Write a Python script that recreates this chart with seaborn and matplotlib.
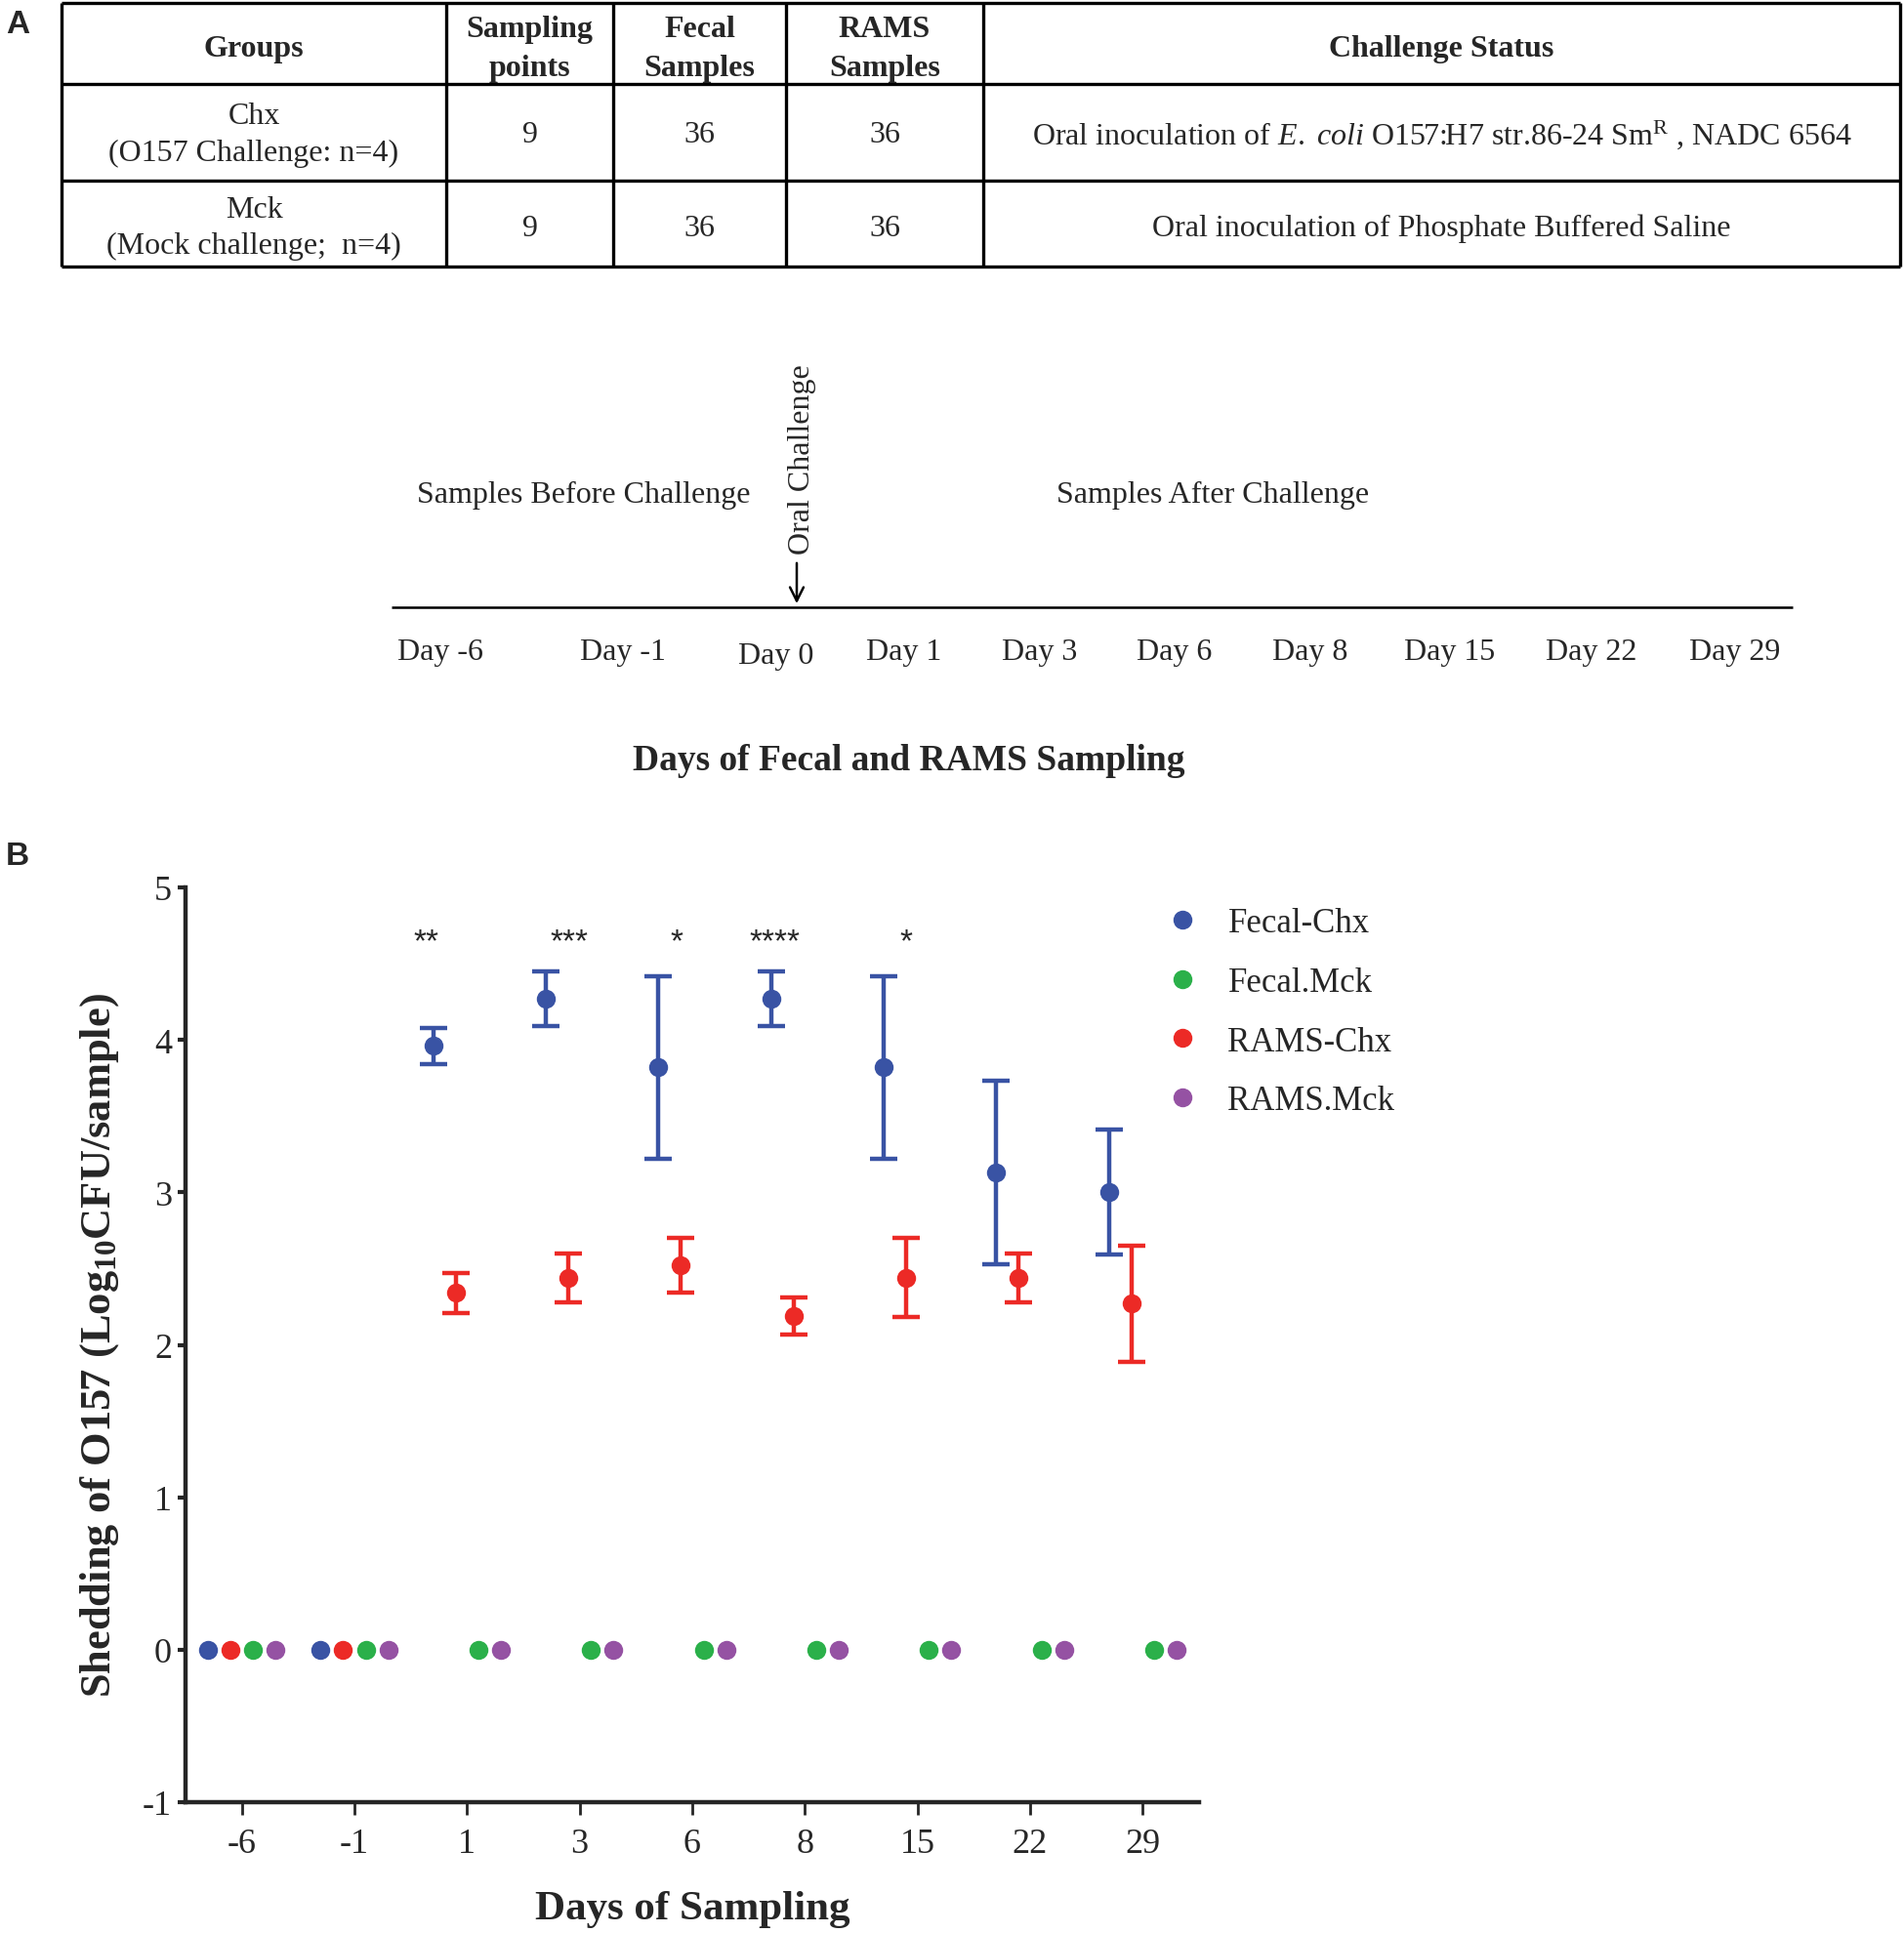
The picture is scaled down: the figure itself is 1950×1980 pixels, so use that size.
import numpy as np
import pandas as pd
import matplotlib
matplotlib.use("Agg")
import matplotlib.pyplot as plt
import seaborn as sns

# ---------------- data ----------------
table_header = ["Groups", "Sampling\npoints", "Fecal\nSamples", "RAMS\nSamples", "Challenge Status"]
table_groups = ["Chx\n(O157 Challenge: n=4)", "Mck\n(Mock challenge;  n=4)"]
table_sampling_points = ["9", "9"]
table_fecal_samples = ["36", "36"]
table_rams_samples = ["36", "36"]
table_status = [r"Oral inoculation of $\mathit{E.\ coli}$ O157:H7 str.86-24 Sm$^{\mathrm{R}}$ , NADC 6564",
                "Oral inoculation of Phosphate Buffered Saline"]

timeline_days = ["Day -6", "Day -1", "Day 0", "Day 1", "Day 3", "Day 6", "Day 8", "Day 15", "Day 22", "Day 29"]

days = ["-6", "-1", "1", "3", "6", "8", "15", "22", "29"]
fecal_chx = [0, 0, 3.96, 4.27, 3.82, 4.27, 3.82, 3.13, 3.00]
fecal_chx_err = [0, 0, 0.12, 0.18, 0.60, 0.18, 0.60, 0.60, 0.41]
rams_chx = [0, 0, 2.34, 2.44, 2.52, 2.19, 2.44, 2.44, 2.27]
rams_chx_err = [0, 0, 0.13, 0.16, 0.18, 0.12, 0.26, 0.16, 0.38]
fecal_mck = [0, 0, 0, 0, 0, 0, 0, 0, 0]
rams_mck = [0, 0, 0, 0, 0, 0, 0, 0, 0]

legend_order = ["Fecal-Chx", "Fecal.Mck", "RAMS-Chx", "RAMS.Mck"]
plot_order = ["Fecal-Chx", "RAMS-Chx", "Fecal.Mck", "RAMS.Mck"]
colors = {"Fecal-Chx": "#3953A4", "Fecal.Mck": "#2BB04A", "RAMS-Chx": "#EC2A26", "RAMS.Mck": "#9552A3"}

star_days = ["1", "3", "6", "8", "15"]
star_labels = ["**", "***", "*", "****", "*"]
star_value = 4.64

# ---------------- style ----------------
sns.set_style("ticks")
plt.rcParams["font.family"] = ["Liberation Serif", "DejaVu Serif"]
plt.rcParams["mathtext.fontset"] = "custom"
plt.rcParams["mathtext.rm"] = "Liberation Serif"
plt.rcParams["mathtext.it"] = "Liberation Serif:italic"
plt.rcParams["mathtext.bf"] = "Liberation Serif:bold"

W, H = 1950, 1981
fig = plt.figure(figsize=(W / 100, H / 100), dpi=100)

# ---------------- panel A (overlay in pixel coords) ----------------
ax0 = fig.add_axes([0, 0, 1, 1])
ax0.set_xlim(0, W)
ax0.set_ylim(H, 0)
ax0.axis("off")

col_b = [63, 457, 628, 805, 1007, 1946]
row_b = [4, 87, 186, 274]
ax0.hlines(row_b, col_b[0], col_b[-1], color="black", lw=2.4)
ax0.vlines(col_b, row_b[0], row_b[-1], color="black", lw=2.4)
ccx = [(col_b[i] + col_b[i + 1]) / 2 for i in range(5)]
rcy = [(row_b[i] + row_b[i + 1]) / 2 for i in range(3)]
tfs = 23
for i, h in enumerate(table_header):
    ax0.text(ccx[i], rcy[0] + 5, h, ha="center", va="center", fontsize=tfs, fontweight="bold",
             multialignment="center", linespacing=1.5)
rows = list(zip(table_groups, table_sampling_points, table_fecal_samples, table_rams_samples, table_status))
row_dy = [2, 4]
for r, row in enumerate(rows):
    for c, val in enumerate(row):
        ax0.text(ccx[c], rcy[r + 1] + row_dy[r], val, ha="center", va="center", fontsize=tfs,
                 multialignment="center", linespacing=1.4)

# timeline
ax0.hlines(623, 401, 1836, color="black", lw=1.8)
ax0.annotate("", xy=(816, 622), xytext=(816, 575),
             arrowprops=dict(arrowstyle="->", lw=1.8, color="black", mutation_scale=25))
ax0.text(822, 471, "Oral Challenge", rotation=90, ha="center", va="center", fontsize=tfs)
ax0.text(598, 507, "Samples Before Challenge", ha="center", va="center", fontsize=tfs)
ax0.text(1242, 507, "Samples After Challenge", ha="center", va="center", fontsize=tfs)
timeline_x = [451, 638, 795, 926, 1065, 1203, 1342, 1485, 1630, 1777]
for lab, x in zip(timeline_days, timeline_x):
    y = 673 if lab == "Day 0" else 669
    ax0.text(x, y, lab, ha="center", va="center", fontsize=tfs)
ax0.text(931, 780, "Days of Fecal and RAMS Sampling", ha="center", va="center",
         fontsize=27, fontweight="bold")

ax0.text(6, 26, "A", ha="left", va="center", fontsize=24, fontweight="bold", family="Liberation Sans")
ax0.text(6, 878, "B", ha="left", va="center", fontsize=24, fontweight="bold", family="Liberation Sans")

# ---------------- panel B ----------------
series_vals = {"Fecal-Chx": (fecal_chx, fecal_chx_err), "Fecal.Mck": (fecal_mck, [0] * 9),
               "RAMS-Chx": (rams_chx, rams_chx_err), "RAMS.Mck": (rams_mck, [0] * 9)}
recs = []
for s, (v, e) in series_vals.items():
    for d, vv, ee in zip(days, v, e):
        recs.append(dict(day=d, series=s, value=vv, err=ee))
df = pd.DataFrame(recs)

left, right, bottom, top = 190, 1228, 1847, 910
ax = fig.add_axes([left / W, 1 - bottom / H, (right - left) / W, (bottom - top) / H])

sns.stripplot(data=df, x="day", y="value", hue="series", order=days, hue_order=plot_order,
              palette=colors, dodge=True, jitter=False, size=14, linewidth=0, ax=ax, zorder=3)

n = len(plot_order)
width = 0.8
for k, s in enumerate(plot_order):
    off = -width / 2 + width / n * (k + 0.5)
    sub = df[(df.series == s) & (df.err > 0)]
    xs = [days.index(d) + off for d in sub.day]
    ax.errorbar(xs, sub.value, yerr=sub.err, fmt="none", ecolor=colors[s], elinewidth=3.2,
                capsize=10, capthick=3.2, zorder=2)

star_dx = {"1": -0.36, "3": -0.09, "6": -0.14, "8": -0.27, "15": -0.10}
for d, lab in zip(star_days, star_labels):
    i = days.index(d)
    ax.text(i + star_dx[d], star_value, lab, ha="center", va="center", fontsize=24, family="Liberation Sans")

ax.set_xlim(-0.5, 8.5)
ax.set_ylim(-1, 5)
ax.set_yticks(range(-1, 6))
ax.set_yticklabels([str(v) for v in range(-1, 6)])
sns.despine(ax=ax)
for sp in ["left", "bottom"]:
    ax.spines[sp].set_linewidth(3.2)
ax.tick_params(axis="y", length=6, width=3, labelsize=26, pad=4)
ax.tick_params(axis="x", length=9, width=2, labelsize=26, pad=10)
ax.set_xlabel("Days of Sampling", fontsize=31, fontweight="bold", labelpad=22)
ax.set_ylabel(r"Shedding of O157 (Log$_{\mathbf{10}}$CFU/sample)", fontsize=32,
              fontweight="bold", labelpad=16)

leg = ax.get_legend()
handles = dict(zip([t.get_text() for t in leg.get_texts()], leg.legend_handles))
leg.remove()
fig.legend([handles[s] for s in legend_order], legend_order, loc="upper left",
           bbox_to_anchor=(1195 / W, 1 - 930 / H), frameon=False, fontsize=25,
           handlelength=0.95, handletextpad=0.85, labelspacing=0.80, borderpad=0,
           borderaxespad=0, markerscale=1.0)

fig.savefig("out.png", dpi=100)
